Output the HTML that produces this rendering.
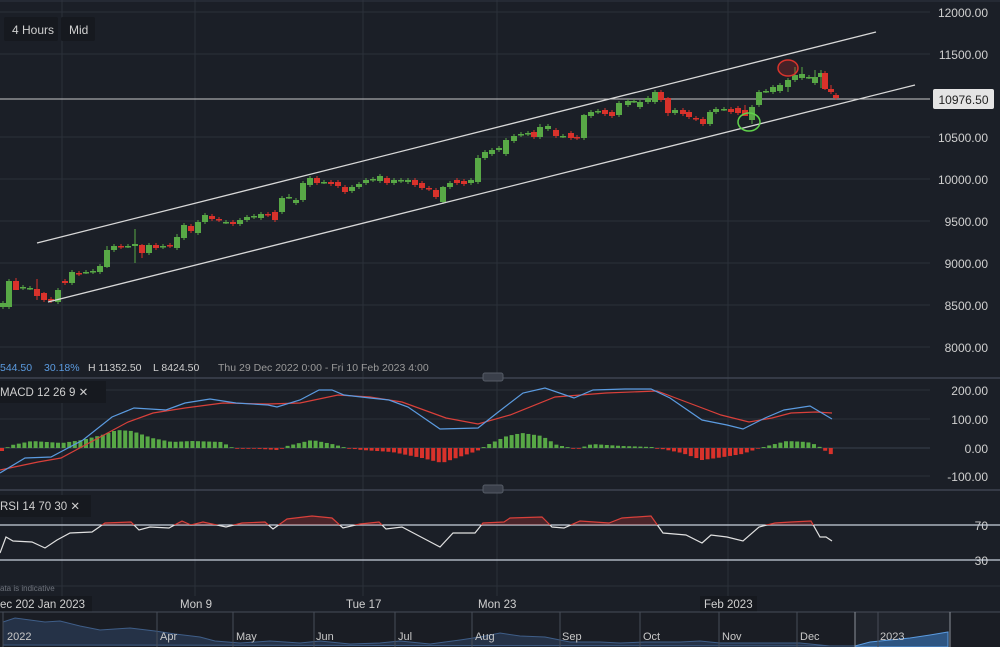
<!DOCTYPE html>
<html><head><meta charset="utf-8"><style>
html,body{margin:0;padding:0;background:#1b1f27;width:1000px;height:647px;overflow:hidden}
svg{display:block;font-family:"Liberation Sans",sans-serif}
</style></head><body>
<svg id="s" width="1000" height="647" viewBox="0 0 1000 647" xmlns="http://www.w3.org/2000/svg">
<rect width="1000" height="647" fill="#1b1f27"/>
<g stroke="#2b303a" stroke-width="1">
<line x1="0" y1="12" x2="930" y2="12"/><line x1="0" y1="54" x2="930" y2="54"/><line x1="0" y1="137" x2="930" y2="137"/><line x1="0" y1="179" x2="930" y2="179"/><line x1="0" y1="221" x2="930" y2="221"/><line x1="0" y1="263" x2="930" y2="263"/><line x1="0" y1="305" x2="930" y2="305"/><line x1="0" y1="347" x2="930" y2="347"/>
<line x1="0" y1="390" x2="930" y2="390"/><line x1="0" y1="419" x2="930" y2="419"/><line x1="0" y1="476" x2="930" y2="476"/>
<line x1="0" y1="586" x2="1000" y2="586"/>
<line x1="62" y1="0" x2="62" y2="596"/><line x1="195" y1="0" x2="195" y2="596"/><line x1="363" y1="0" x2="363" y2="596"/><line x1="497" y1="0" x2="497" y2="596"/><line x1="728" y1="0" x2="728" y2="596"/>
</g>
<line x1="0" y1="1" x2="1000" y2="1" stroke="#2f3440"/>
<line x1="0" y1="448" x2="930" y2="448" stroke="#3a404c"/>
<line x1="0" y1="378" x2="1000" y2="378" stroke="#3e4450" stroke-width="1.5"/>
<line x1="0" y1="490" x2="1000" y2="490" stroke="#3e4450" stroke-width="1.5"/>
<rect x="483" y="373" width="20" height="8" rx="2" fill="#3a3f4a" stroke="#555b66"/>
<rect x="483" y="485" width="20" height="8" rx="2" fill="#3a3f4a" stroke="#555b66"/>
<line x1="0" y1="99" x2="930" y2="99" stroke="#c9c9c9" stroke-width="1"/>
<g id="candles"></g>
<g stroke="#d8d8d8" stroke-width="1.3">
<line x1="37" y1="243" x2="876" y2="32"/><line x1="48" y1="302" x2="915" y2="85"/>
</g>
<ellipse cx="788" cy="68" rx="10" ry="8" fill="rgba(200,40,40,0.25)" stroke="#d9342c" stroke-width="1.5"/>
<ellipse cx="749" cy="122" rx="11" ry="9" fill="none" stroke="#5fd24b" stroke-width="1.5"/>
<rect x="4" y="17" width="54" height="24" rx="2" fill="#16191f"/><rect x="61" y="17" width="34" height="24" rx="2" fill="#16191f"/>
<text x="12" y="34" fill="#d0d0d0" font-size="12">4 Hours</text><text x="69" y="34" fill="#d0d0d0" font-size="12">Mid</text>
<g fill="#d0d0d0" font-size="12" text-anchor="end">
<text x="988" y="17">12000.00</text><text x="988" y="59">11500.00</text><text x="988" y="142">10500.00</text><text x="988" y="184">10000.00</text><text x="988" y="226">9500.00</text><text x="988" y="268">9000.00</text><text x="988" y="310">8500.00</text><text x="988" y="352">8000.00</text>
<text x="988" y="395">200.00</text><text x="988" y="424">100.00</text><text x="988" y="453">0.00</text><text x="988" y="481">-100.00</text>
<text x="988" y="530">70</text><text x="988" y="565">30</text>
</g>
<rect x="933" y="89" width="61" height="20" rx="2" fill="#e4e4e4"/>
<text x="963.5" y="104" fill="#222" font-size="12" text-anchor="middle">10976.50</text>
<g font-size="10.5"><text x="0" y="371" fill="#5b9be0">544.50</text><text x="44" y="371" fill="#5b9be0">30.18%</text><text x="88" y="371" fill="#cfcfcf">H 11352.50</text><text x="153" y="371" fill="#cfcfcf">L 8424.50</text><text x="218" y="371" fill="#9a9a9a">Thu 29 Dec 2022 0:00 - Fri 10 Feb 2023 4:00</text></g>
<rect x="0" y="381" width="106" height="22" fill="#16191f"/><text x="0" y="396" fill="#d0d0d0" font-size="11.5">MACD  12  26  9  ✕</text>
<rect x="0" y="495" width="91" height="22" fill="#16191f"/><text x="0" y="510" fill="#d0d0d0" font-size="11.5">RSI  14  70  30  ✕</text>
<g id="hist"></g>
<polyline id="mred" fill="none" stroke="#d9403a" stroke-width="1.2"/>
<polyline id="mblue" fill="none" stroke="#5b9be0" stroke-width="1.2"/>
<line x1="0" y1="525" x2="1000" y2="525" stroke="#c8d0dc" stroke-width="1.3"/>
<line x1="0" y1="560" x2="1000" y2="560" stroke="#c8d0dc" stroke-width="1.3"/>
<defs><clipPath id="above"><rect x="0" y="490" width="1000" height="35"/></clipPath><clipPath id="below"><rect x="0" y="525" width="1000" height="60"/></clipPath></defs>
<g clip-path="url(#above)"><polygon id="rfill" fill="rgba(200,50,50,0.28)"/><polyline id="rsi1" fill="none" stroke="#d9403a" stroke-width="1.2"/></g>
<g clip-path="url(#below)"><polyline id="rsi2" fill="none" stroke="#e0e0e0" stroke-width="1.2"/></g>
<text x="0" y="591" fill="#6e737c" font-size="8">ata is indicative</text>
<rect x="0" y="596" width="92" height="17" fill="#16191f"/><rect x="700" y="596" width="57" height="17" fill="#16191f"/>
<g fill="#d0d0d0" font-size="11.5"><text x="0" y="608">ec 202 Jan 2023</text><text x="180" y="608">Mon 9</text><text x="346" y="608">Tue 17</text><text x="478" y="608">Mon 23</text><text x="704" y="608">Feb 2023</text></g>
<rect x="0" y="612" width="1000" height="35" fill="#1a1d24"/>
<rect x="855" y="612" width="95" height="35" fill="#20242c"/>
<path d="M3,645 L3,622 L15,618 L30,620 L45,622 L60,621 L80,626 L100,630 L130,628 L155,631 L175,634 L200,637 L215,641 L240,643 L270,641 L300,643 L320,641 L350,644 L380,643 L400,641 L430,644 L460,640 L480,637 L500,633 L520,636 L545,637 L570,642 L600,642 L620,643 L645,642 L680,642 L700,641 L720,643 L760,643 L800,643 L830,646 L855,646 Z" fill="#253247" stroke="#3f5e88" stroke-width="1"/>
<path d="M855,646 L870,642 L890,640 L910,638 L930,635 L948,632 L948,647 L855,647 Z" fill="#2e5582" stroke="#5b9be0" stroke-width="1"/>
<g stroke="#474d58"><line x1="0" y1="612" x2="1000" y2="612"/><line x1="3" y1="612" x2="3" y2="647"/><line x1="157" y1="612" x2="157" y2="647"/><line x1="233" y1="612" x2="233" y2="647"/><line x1="314" y1="612" x2="314" y2="647"/><line x1="395" y1="612" x2="395" y2="647"/><line x1="472" y1="612" x2="472" y2="647"/><line x1="560" y1="612" x2="560" y2="647"/><line x1="640" y1="612" x2="640" y2="647"/><line x1="719" y1="612" x2="719" y2="647"/><line x1="797" y1="612" x2="797" y2="647"/><line x1="878" y1="612" x2="878" y2="647"/><line x1="855" y1="612" x2="855" y2="647" stroke="#8a8f98"/><line x1="950" y1="612" x2="950" y2="647" stroke="#8a8f98"/></g>
<g fill="#c8c8c8" font-size="11"><text x="7" y="640">2022</text><text x="160" y="640">Apr</text><text x="236" y="640">May</text><text x="316" y="640">Jun</text><text x="398" y="640">Jul</text><text x="475" y="640">Aug</text><text x="562" y="640">Sep</text><text x="643" y="640">Oct</text><text x="722" y="640">Nov</text><text x="800" y="640">Dec</text><text x="880" y="640">2023</text></g>
</svg>
<script>
var NS="http://www.w3.org/2000/svg",G="#58a846",R="#d9322b";
function el(t,a,p){var e=document.createElementNS(NS,t);for(var k in a)e.setAttribute(k,a[k]);p.appendChild(e);return e;}
var c=[[0,307,303],[6,307,281],[13,281,290],[20,288,287],[27,288,288],[34,289,296],[41,293,300],[48,299,301],[55,302,290],[62,281,283],[69,283,272],[76,273,274],[83,272,272],[90,272,271],[97,272,266],[104,267,250],[111,250,246],[118,246,247],[125,246,246],[132,246,244],[139,245,253],[146,253,245],[153,245,248],[160,247,246],[167,245,246],[174,248,237],[181,238,225],[188,226,231],[195,233,222],[202,222,215],[209,216,219],[216,219,220],[223,222,222],[230,222,224],[237,224,220],[244,220,217],[251,217,216],[258,218,214],[265,214,215],[272,212,220],[279,212,198],[286,198,197],[293,203,200],[300,200,183],[307,185,178],[314,178,183],[321,182,182],[328,182,184],[335,182,186],[342,187,192],[349,191,187],[356,187,184],[363,183,180],[370,180,179],[377,181,176],[384,178,183],[391,183,180],[398,181,180],[405,182,180],[412,180,185],[419,183,188],[426,188,189],[433,190,197],[440,202,187],[447,187,183],[454,180,183],[461,181,184],[468,183,180],[475,182,158],[482,158,152],[489,154,150],[496,150,148],[503,154,140],[511,141,136],[518,135,134],[525,134,133],[531,132,137],[537,137,127],[545,129,126],[553,130,136],[560,136,136],[568,133,138],[574,137,138],[581,138,115],[588,116,112],[595,112,111],[602,110,114],[609,112,116],[616,115,103],[625,105,101],[631,101,101],[637,107,102],[645,102,98],[652,102,92],[658,92,100],[665,98,113],[672,113,110],[680,110,114],[686,112,117],[693,118,119],[700,119,124],[707,124,112],[713,112,109],[721,109,109],[728,109,112],[735,108,113],[742,110,116],[749,120,107],[756,105,92],[763,91,91],[770,92,87],[777,91,85],[785,87,80],[792,80,75],[799,78,74],[806,77,77],[812,83,77],[818,77,73],[822,73,89],[828,89,92],[833,95,98]];
var wk={104:[246,268],132:[229,263],139:[244,258],174:[234,250],286:[194,199],440:[186,204],475:[155,184],537:[124,139],581:[114,140],665:[97,116],742:[105,116],749:[105,124],785:[78,92],792:[67,82],799:[67,80],812:[70,85],818:[70,88],822:[71,90],828:[85,94],41:[292,302],34:[279,300],13:[278,290]};
var cg=document.getElementById("candles");
c.forEach(function(d){var x=d[0],o=d[1],cl=d[2],col=cl<=o?G:R;var t=Math.min(o,cl),b=Math.max(o,cl);var w=wk[x]||[t-2,b+2];
el("line",{x1:x+3,x2:x+3,y1:w[0],y2:w[1],stroke:col,"stroke-width":1},cg);
el("rect",{x:x,y:t,width:6,height:Math.max(1.5,b-t),fill:col},cg);});
var hk=[[0,-3],[10,3],[30,7],[60,5],[80,8],[100,13],[115,18],[130,17],[150,10],[170,6],[190,7],[220,6],[230,0],[260,-1],[275,-2],[285,2],[310,8],[330,4],[345,0],[360,-2],[390,-4],[420,-10],[440,-15],[460,-8],[475,-3],[485,3],[505,12],[520,15],[540,12],[555,3],[570,0],[575,-1],[590,4],[620,2],[650,1],[660,-1],[680,-5],[700,-12],[715,-10],[740,-6],[755,-1],[765,2],[785,7],[805,6],[815,3],[822,-2],[832,-8]];
function interp(a,x){for(var i=0;i<a.length-1;i++){if(x>=a[i][0]&&x<=a[i+1][0]){var f=(x-a[i][0])/(a[i+1][0]-a[i][0]);return a[i][1]+f*(a[i+1][1]-a[i][1]);}}return a[a.length-1][1];}
var hg=document.getElementById("hist");
for(var x=0;x<=832;x+=5.6){var h=interp(hk,x);if(Math.abs(h)<0.6)h=h<0?-0.8:0.8;el("rect",{x:x,y:h>0?448-h:448,width:4,height:Math.abs(h),fill:h>0?G:R},hg);}
document.getElementById("mblue").setAttribute("points","0,473 25,458 51,457 83,440 112,417 134,408 166,410 185,403 210,399 236,403 268,405 277,407 300,400 319,390 332,390 344,395 370,398 389,400 408,407 440,429 478,428 497,413 523,393 545,388 574,398 593,390 625,389 651,389 670,398 702,420 727,425 743,429 765,418 784,410 810,406 832,419");
document.getElementById("mred").setAttribute("points","0,470 38,462 61,458 89,443 128,422 153,413 185,408 223,403 268,404 300,403 338,395 370,397 402,402 446,418 478,424 510,415 555,397 606,393 657,391 689,403 721,415 749,422 772,418 791,413 816,412 832,413");
var rp="0,553 6,537 13,541 32,542 45,548 57,540 70,533 92,532 105,523 131,522 139,530 150,527 169,528 182,521 191,525 203,522 226,527 242,523 265,522 273,529 287,519 312,516 332,518 343,528 360,524 379,522 386,529 402,527 421,537 440,547 453,533 475,533 483,523 504,522 510,518 542,517 552,527 564,528 580,521 609,523 622,518 651,516 663,533 686,535 702,543 711,535 727,537 743,541 759,527 775,523 791,522 811,521 820,537 826,537 832,541";
document.getElementById("rsi1").setAttribute("points",rp);
document.getElementById("rsi2").setAttribute("points",rp);
document.getElementById("rfill").setAttribute("points","0,525 "+rp+" 832,525");
</script>
</body></html>
